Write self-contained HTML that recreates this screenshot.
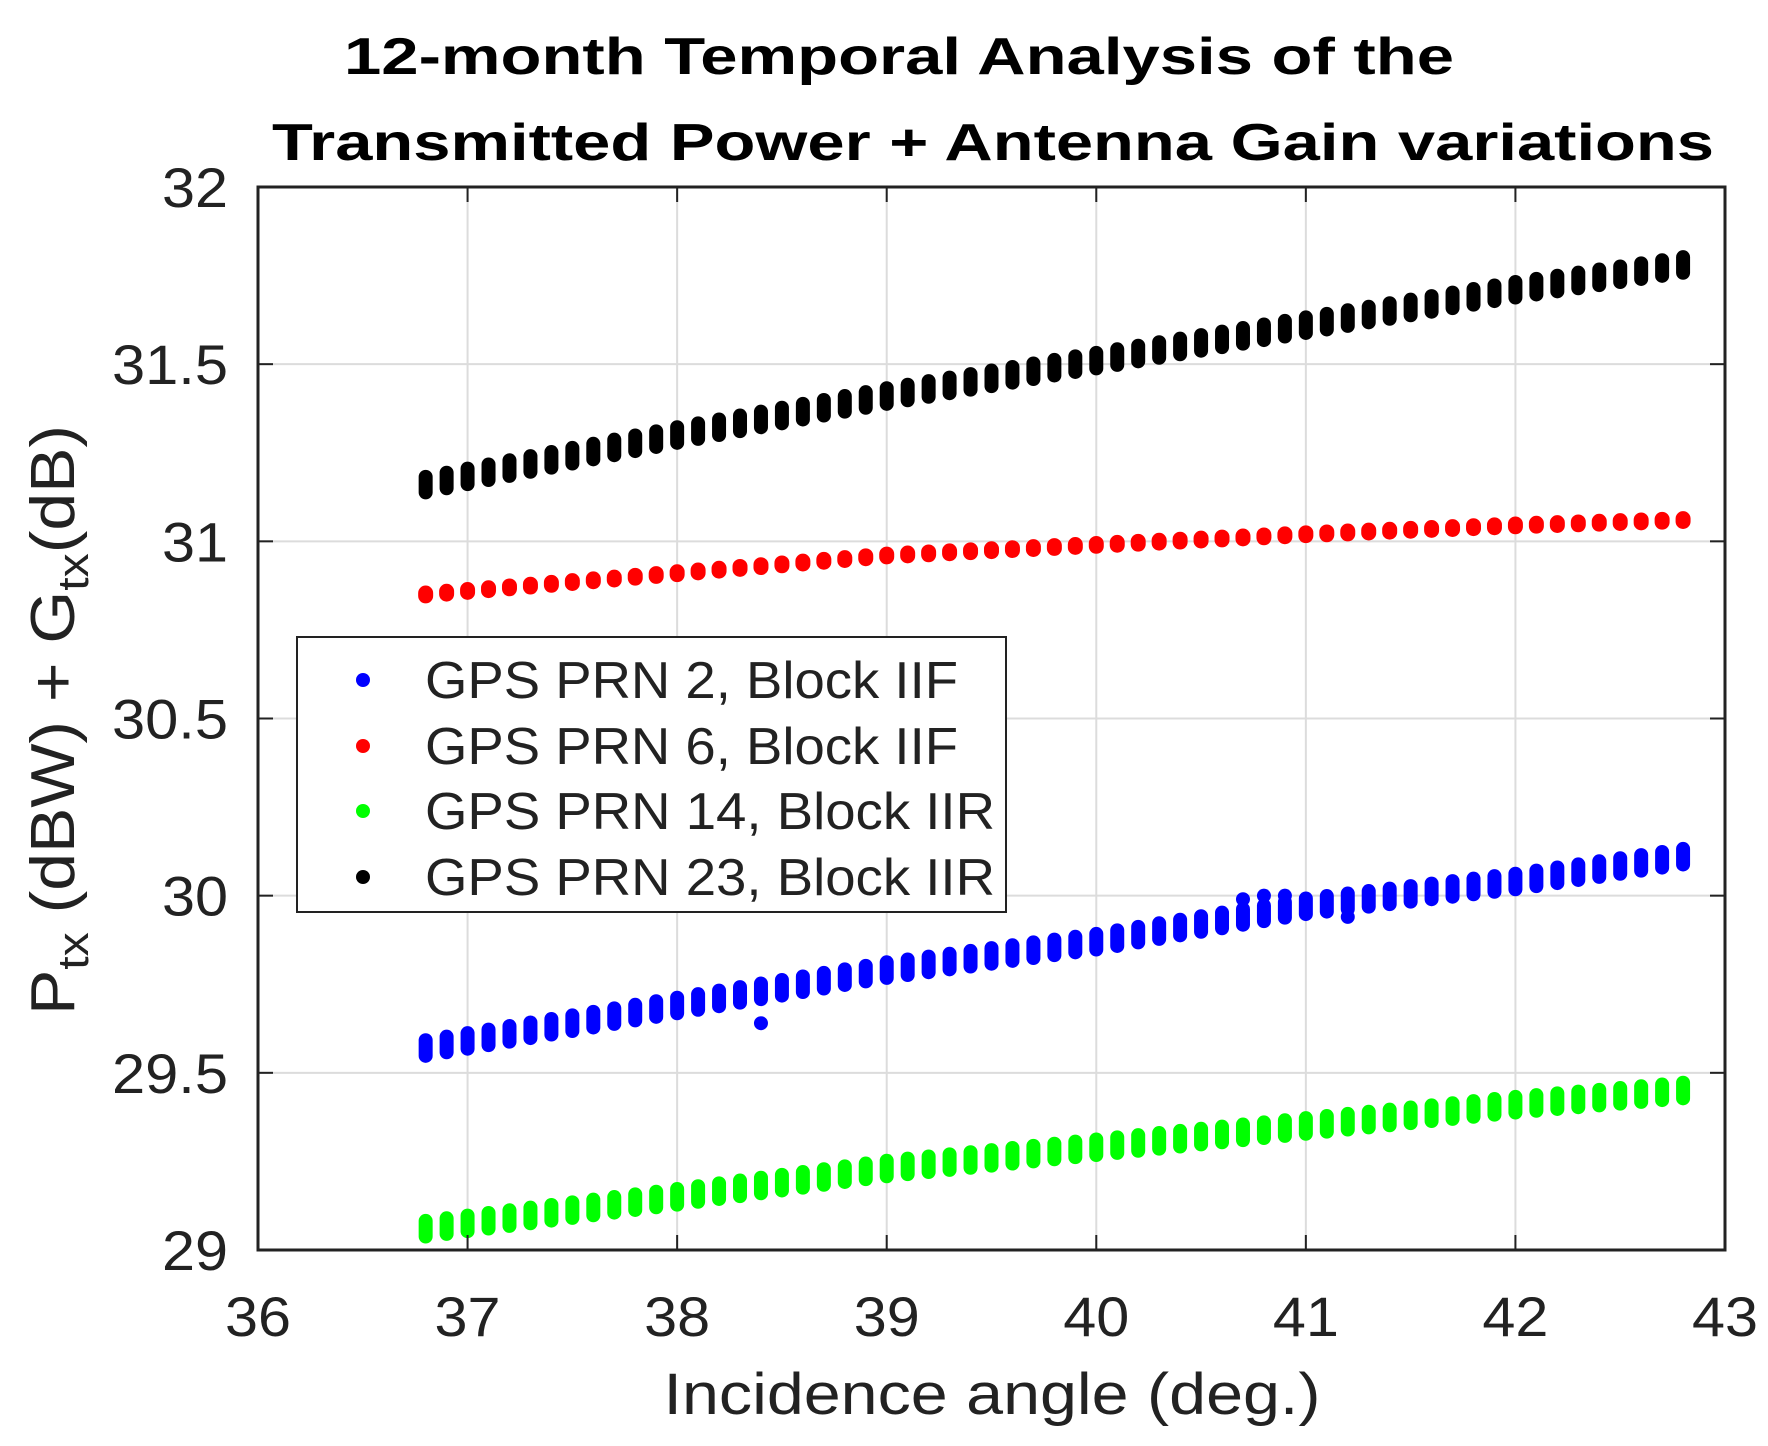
<!DOCTYPE html>
<html><head><meta charset="utf-8"><style>
html,body{margin:0;padding:0;background:#fff}
svg{display:block}
text{font-family:"Liberation Sans",Arial,sans-serif;fill:#222}
</style></head><body>
<svg id="s" width="1768" height="1446" viewBox="0 0 1768 1446" xmlns="http://www.w3.org/2000/svg">
<rect width="1768" height="1446" fill="#fff"/>
<text x="899" y="74" font-size="52" font-weight="bold" text-anchor="middle" textLength="1110" lengthAdjust="spacingAndGlyphs" style="fill:#000">12-month Temporal Analysis of the</text>
<text x="272" y="160" font-size="52" font-weight="bold" textLength="1442" lengthAdjust="spacingAndGlyphs" style="fill:#000">Transmitted Power + Antenna Gain variations</text>
<g id="grid"></g>
<g id="data"></g>
<rect x="258" y="187" width="1467" height="1063" fill="none" stroke="#222" stroke-width="3"/>
<g id="ticks"></g>
<text x="992" y="1414" font-size="58" text-anchor="middle" textLength="657" lengthAdjust="spacingAndGlyphs">Incidence angle (deg.)</text>
<text transform="translate(74,720) rotate(-90)" font-size="62" text-anchor="middle" textLength="590" lengthAdjust="spacingAndGlyphs">P<tspan font-size="44" dy="14">tx</tspan><tspan dy="-14"> (dBW) + G</tspan><tspan font-size="44" dy="14">tx</tspan><tspan dy="-14">(dB)</tspan></text>
<rect x="297" y="637" width="709" height="275" fill="#fff" stroke="#222" stroke-width="2"/>
<circle cx="363" cy="680" r="7" fill="#0000ff"/>
<circle cx="363" cy="746" r="7" fill="#ff0000"/>
<circle cx="363" cy="811" r="7" fill="#00ff00"/>
<circle cx="363" cy="877" r="7" fill="#000"/>
<text x="425" y="698" font-size="52" textLength="533" lengthAdjust="spacingAndGlyphs">GPS PRN 2, Block IIF</text>
<text x="425" y="764" font-size="52" textLength="533" lengthAdjust="spacingAndGlyphs">GPS PRN 6, Block IIF</text>
<text x="425" y="829" font-size="52" textLength="570" lengthAdjust="spacingAndGlyphs">GPS PRN 14, Block IIR</text>
<text x="425" y="895" font-size="52" textLength="570" lengthAdjust="spacingAndGlyphs">GPS PRN 23, Block IIR</text>
</svg>
<script>
const NS="http://www.w3.org/2000/svg";
const X=v=>258+(v-36)*209.57, Y=v=>187+(32-v)*354.33;
function el(p,t,a,txt){const e=document.createElementNS(NS,t);for(const k in a)e.setAttribute(k,a[k]);if(txt!==undefined)e.textContent=txt;document.getElementById(p).appendChild(e);}
for(let i=37;i<=42;i++){el('grid','line',{x1:X(i),x2:X(i),y1:187,y2:1250,stroke:'#dcdcdc','stroke-width':2});
el('ticks','line',{x1:X(i),x2:X(i),y1:187,y2:202,stroke:'#222','stroke-width':2});
el('ticks','line',{x1:X(i),x2:X(i),y1:1250,y2:1235,stroke:'#222','stroke-width':2});}
for(let v=29.5;v<32;v+=0.5){el('grid','line',{x1:258,x2:1725,y1:Y(v),y2:Y(v),stroke:'#dcdcdc','stroke-width':2});
el('ticks','line',{x1:258,x2:273,y1:Y(v),y2:Y(v),stroke:'#222','stroke-width':2});
el('ticks','line',{x1:1725,x2:1710,y1:Y(v),y2:Y(v),stroke:'#222','stroke-width':2});}
for(let i=36;i<=43;i++)el('ticks','text',{x:X(i),y:1336,'font-size':56,'text-anchor':'middle','textLength':66,'lengthAdjust':'spacingAndGlyphs'},String(i));
['29','29.5','30','30.5','31','31.5','32'].forEach(s=>el('ticks','text',{x:228,y:Y(+s)+20,'font-size':56,'text-anchor':'end','textLength':s.length>2?116:66,'lengthAdjust':'spacingAndGlyphs'},s));
const xs=[36.8,38,39,40,41,42,42.8];
function interp(ys,x){for(let i=0;i<xs.length-1;i++)if(x<=xs[i+1]+1e-9){const t=(x-xs[i])/(xs[i+1]-xs[i]);return ys[i]+t*(ys[i+1]-ys[i]);}return ys[ys.length-1];}
const S=[
 {c:'#000',y:[31.16,31.30,31.41,31.51,31.61,31.71,31.78],h:0.022,w:14},
 {c:'#ff0000',y:[30.85,30.91,30.96,30.99,31.02,31.045,31.06],h:0.004,w:15},
 {c:'#0000ff',y:[29.57,29.69,29.79,29.87,29.97,30.04,30.11],h:0.022,w:14},
 {c:'#00ff00',y:[29.06,29.15,29.23,29.29,29.35,29.41,29.45],h:0.022,w:14}];
S.forEach(s=>{for(let k=0;k<=60;k++){const x=36.8+k*0.1;const v=interp(s.y,x);
 el('data','line',{x1:X(x),x2:X(x),y1:Y(v+s.h),y2:Y(v-s.h),stroke:s.c,'stroke-width':s.w,'stroke-linecap':'round'});}});
[[38.4,29.64],[40.7,29.99],[40.8,30.0],[40.9,30.0],[41.2,29.94]].forEach(p=>el('data','circle',{cx:X(p[0]),cy:Y(p[1]),r:7,fill:'#0000ff'}));
</script>
</body></html>
